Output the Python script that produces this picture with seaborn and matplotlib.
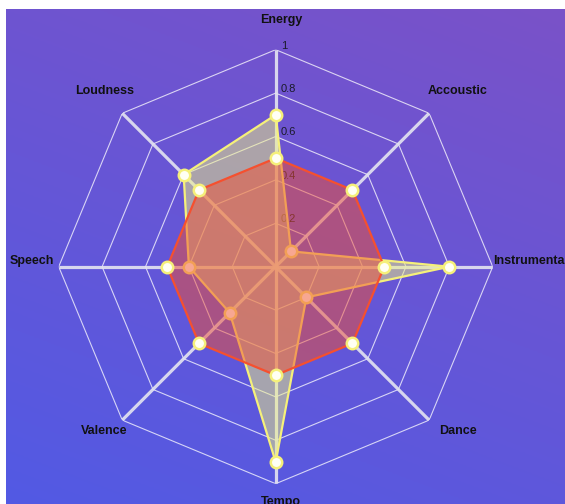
import numpy as np
import matplotlib
matplotlib.use("Agg")
import matplotlib.pyplot as plt
import seaborn as sns

# ---- data ----
categories = ["Energy", "Accoustic", "Instrumental", "Dance", "Tempo", "Valence", "Speech", "Loudness"]
series_yellow = [0.7, 0.1, 0.8, 0.2, 0.9, 0.3, 0.4, 0.6]
series_red = [0.5, 0.5, 0.5, 0.5, 0.5, 0.5, 0.5, 0.5]
tick_values = [0.2, 0.4, 0.6, 0.8, 1.0]
tick_labels = ["0.2", "0.4", "0.6", "0.8", "1"]

plt.rcParams["font.family"] = ["Liberation Sans", "DejaVu Sans"]

W, H = 565, 504
fig = plt.figure(figsize=(W / 100, H / 100), dpi=100, facecolor="white")

# gradient background panel
bg = fig.add_axes([6 / W, 0, (W - 6) / W, (H - 9) / H])
bg.set_axis_off()
nx, ny = 200, 200
xs = np.linspace(0, 1, nx)[None, :]
ys = np.linspace(0, 1, ny)[:, None]
t = 0.3 * (1 - xs) + 0.7 * ys
c1 = np.array([122, 82, 200]) / 255.0
c2 = np.array([82, 90, 228]) / 255.0
img = (1 - t)[..., None] * c1 + t[..., None] * c2
bg.imshow(img, aspect="auto", extent=[0, 1, 0, 1], origin="upper")
bg.set_xlim(0, 1)
bg.set_ylim(0, 1)

# polar axes
R = 217
cx, cy = 275.7, 266.7
ax = fig.add_axes([(cx - R) / W, (H - cy - R) / H, 2 * R / W, 2 * R / H], projection="polar")
ax.patch.set_alpha(0)
ax.set_theta_offset(np.pi / 2)
ax.set_theta_direction(-1)
ax.set_ylim(0, 1)
ax.set_xticks([])
ax.set_yticks([])
ax.grid(False)
ax.spines["polar"].set_visible(False)

n = len(categories)
angles = np.arange(n) * 2 * np.pi / n
closed = np.concatenate([angles, angles[:1]])

# grid polygons
for v in tick_values:
    ax.plot(closed, [v] * (n + 1), color="white", lw=0.8, alpha=0.75, zorder=1)
# spokes
for a in angles:
    ax.plot([a, a], [0, 1], color="#E2E2F0", lw=2.3, alpha=0.92, zorder=1.2, solid_capstyle="butt")

# tick labels
for v, lab in zip(tick_values, tick_labels):
    ax.annotate(lab, xy=(0, v), xytext=(3.6, 2.9), textcoords="offset points",
                ha="left", va="center", fontsize=8, color="#1a1a2a", zorder=1.5)

# category labels
for a, lab in zip(angles, categories):
    xf = 0.5 + 0.5 * 1.15 * np.sin(a) + 5.3 / (2 * R)
    yf = 0.5 + 0.5 * 1.11 * np.cos(a) + 5.85 / (2 * R)
    ax.text(xf, yf, lab, transform=ax.transAxes, ha="center", va="center",
            fontsize=9, fontweight="bold", color="#111111", zorder=10, clip_on=False)

def draw_series(vals, line_c, fill_c, fill_a, z):
    v = np.array(vals + vals[:1])
    ax.fill(closed, v, color=fill_c, alpha=fill_a, zorder=z, lw=0)
    sns.lineplot(x=closed, y=v, ax=ax, sort=False, estimator=None, color=line_c, lw=1.6, zorder=z + 0.1)
    sns.scatterplot(x=angles, y=vals, ax=ax, s=68, color="#FFFFF4", edgecolor="#F5F07A",
                    linewidth=1.8, zorder=z + 0.2, clip_on=False)

draw_series(series_yellow, "#F5F07A", "#EEF282", 0.5, 2)
draw_series(series_red, "#F5502F", "#F05032", 0.5, 3)

ax.set_xlabel("")
ax.set_ylabel("")
ax.set_ylim(0, 1)

fig.savefig("out.png", dpi=100, facecolor="white")
